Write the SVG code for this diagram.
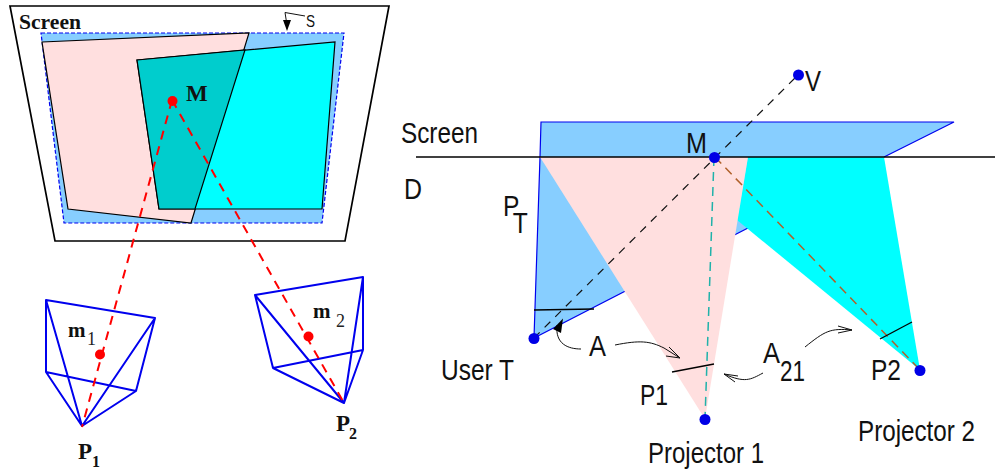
<svg xmlns="http://www.w3.org/2000/svg" width="995" height="472" viewBox="0 0 995 472">
<style>
.t{font-family:"Liberation Sans",Arial,sans-serif;fill:#111;font-size:30px}
.b{font-family:"Liberation Serif","Times New Roman",serif;font-weight:bold;fill:#111}
.r{font-family:"Liberation Serif","Times New Roman",serif;fill:#222}
.ln{fill:none;stroke:#000;stroke-width:1.300}
.cam{fill:none;stroke:#0000ee;stroke-width:2;stroke-linejoin:round}
.red{fill:none;stroke:#f00;stroke-width:2;stroke-dasharray:9 7}
.rd{fill:#f00}
.bd{fill:#0000e6}
.thin{fill:none;stroke:#111;stroke-width:1}
.ol{stroke:#000;stroke-width:1.200}
</style>

<g id="screen-left">
<path d="M10 6H389L345 241H55Z" fill="#fff" stroke="#000" stroke-width="1.700"/>
<path d="M41 33H344L322 223H64Z" fill="#87ceff" stroke="#0000ee" stroke-width="1.200" stroke-dasharray="4 2"/>
<path class="ol" d="M42 42L249 33L191 223L68 209Z" fill="#ffdfdf"/>
<path class="ol" d="M137 60L335 42L322 209H159Z" fill="#00ffff"/>
<path class="ol" d="M137 60L245 50L195 209H159Z" fill="#00cdcd"/>
<text class="b" x="19" y="29" font-size="21" textLength="62" lengthAdjust="spacingAndGlyphs">Screen</text>
<path class="thin" d="M305 16L285 12.500L286.500 22"/>
<path d="M283 20L291 20L287 31Z" fill="#000"/>
<text class="t" x="306" y="27" style="font-size:16px" textLength="9" lengthAdjust="spacingAndGlyphs">S</text>
</g>

<g id="camera-1">
<path class="cam" d="M46 300L155 318L136 391L46 372ZM46 300L82 426L155 318M46 372L82 426L136 391"/>
<text class="b" x="68" y="337" font-size="21">m</text>
<text class="r" x="87" y="345" font-size="18">1</text>
<text class="b" x="78" y="459" font-size="23">P</text>
<text class="b" x="92" y="467" font-size="16">1</text>
</g>
<g id="camera-2">
<path class="cam" d="M255 295L363 277V350L273 368ZM255 295L344 403L363 277M273 368L344 403L363 350"/>
<text class="b" x="313" y="318" font-size="21">m</text>
<text class="r" x="336" y="327" font-size="18">2</text>
<text class="b" x="336" y="431" font-size="23">P</text>
<text class="b" x="349" y="439" font-size="16">2</text>
</g>

<g id="connectors-left">
<path class="red" d="M172 100L82 427"/>
<path class="red" d="M172 100L344 403"/>
</g>
<g id="points-left">
<circle class="rd" cx="172.500" cy="101" r="5"/>
<circle class="rd" cx="100" cy="354.500" r="5"/>
<circle class="rd" cx="308.500" cy="336.500" r="5"/>
<text class="b" x="186" y="101" font-size="23">M</text>
</g>

<g id="screen-right">
<path d="M541 122H954L884 157H540Z" fill="#87ceff"/>
<path d="M540 157L541 122H954L884 157" fill="none" stroke="#0000ee" stroke-width="1.200"/>
</g>
<g id="user-frustum">
<path d="M540 157H748V228L534 338Z" fill="#87ceff"/>
<path d="M540 157L534 338L748 228" fill="none" stroke="#0000ee" stroke-width="1.200"/>
</g>
<g id="projector-2-frustum">
<path d="M748 157H884L920 370L737 220Z" fill="#00ffff"/>
</g>
<g id="projector-1-frustum">
<path d="M540 157H748L705 419Z" fill="#ffdfdf"/>
</g>

<g id="connectors-right">
<path d="M416 157H995" stroke="#000" stroke-width="1.300" fill="none"/>
<path d="M534 338L798 75" stroke="#111" stroke-width="1.200" stroke-dasharray="8 7" fill="none"/>
<path d="M714 157L705 419" stroke="#20b2aa" stroke-width="1.500" stroke-dasharray="9 6" fill="none"/>
<path d="M715 157L920 370" stroke="#b0602a" stroke-width="1.500" stroke-dasharray="9 6" fill="none"/>
<path class="ln" d="M534 310L594 309"/>
<path class="ln" d="M672 372L714 364"/>
<path class="ln" d="M880 339L912 322"/>
<path class="thin" d="M581 349C568 349 555 344 557 325"/>
<path d="M553 329L563 318.500L561 333Z" fill="#000"/>
<path class="thin" d="M615 345C640 340 650 341 664 348L680 358"/>
<path class="thin" d="M666 356L680 358L669 347"/>
<path class="thin" d="M763 373C750 380 745 383 724 374"/>
<path class="thin" d="M735 382L724 374L738 376"/>
<path class="thin" d="M805 347C825 331 830 328 852 330"/>
<path class="thin" d="M838 326L852 330L838 333"/>
</g>

<g id="points-right">
<circle class="bd" cx="798.500" cy="75" r="5.500"/>
<circle class="bd" cx="714.500" cy="157.500" r="5.500"/>
<circle class="bd" cx="534" cy="338.500" r="5.500"/>
<circle class="bd" cx="705" cy="419.500" r="5.500"/>
<circle class="bd" cx="920" cy="370.500" r="5.500"/>
</g>

<g id="labels-right">
<text class="t" x="401" y="143" textLength="77" lengthAdjust="spacingAndGlyphs">Screen</text>
<text class="t" x="404" y="199" textLength="18" lengthAdjust="spacingAndGlyphs">D</text>
<text class="t" transform="translate(503 216) scale(.82 1)" x="0" y="0">P<tspan dx="-8" dy="17">T</tspan></text>
<text class="t" x="686" y="153" textLength="21" lengthAdjust="spacingAndGlyphs">M</text>
<text class="t" x="805" y="91" textLength="16" lengthAdjust="spacingAndGlyphs">V</text>
<text class="t" x="441" y="380" textLength="73" lengthAdjust="spacingAndGlyphs">User T</text>
<text class="t" x="589" y="356" textLength="17" lengthAdjust="spacingAndGlyphs">A</text>
<text class="t" x="640" y="405" textLength="28" lengthAdjust="spacingAndGlyphs">P1</text>
<text class="t" x="648" y="463" textLength="116" lengthAdjust="spacingAndGlyphs">Projector 1</text>
<text class="t" x="763" y="363" textLength="17" lengthAdjust="spacingAndGlyphs">A</text>
<text class="t" x="780" y="381" textLength="25" lengthAdjust="spacingAndGlyphs">21</text>
<text class="t" x="871" y="380" textLength="30" lengthAdjust="spacingAndGlyphs">P2</text>
<text class="t" x="858" y="441" textLength="117" lengthAdjust="spacingAndGlyphs">Projector 2</text>
</g>
</svg>
